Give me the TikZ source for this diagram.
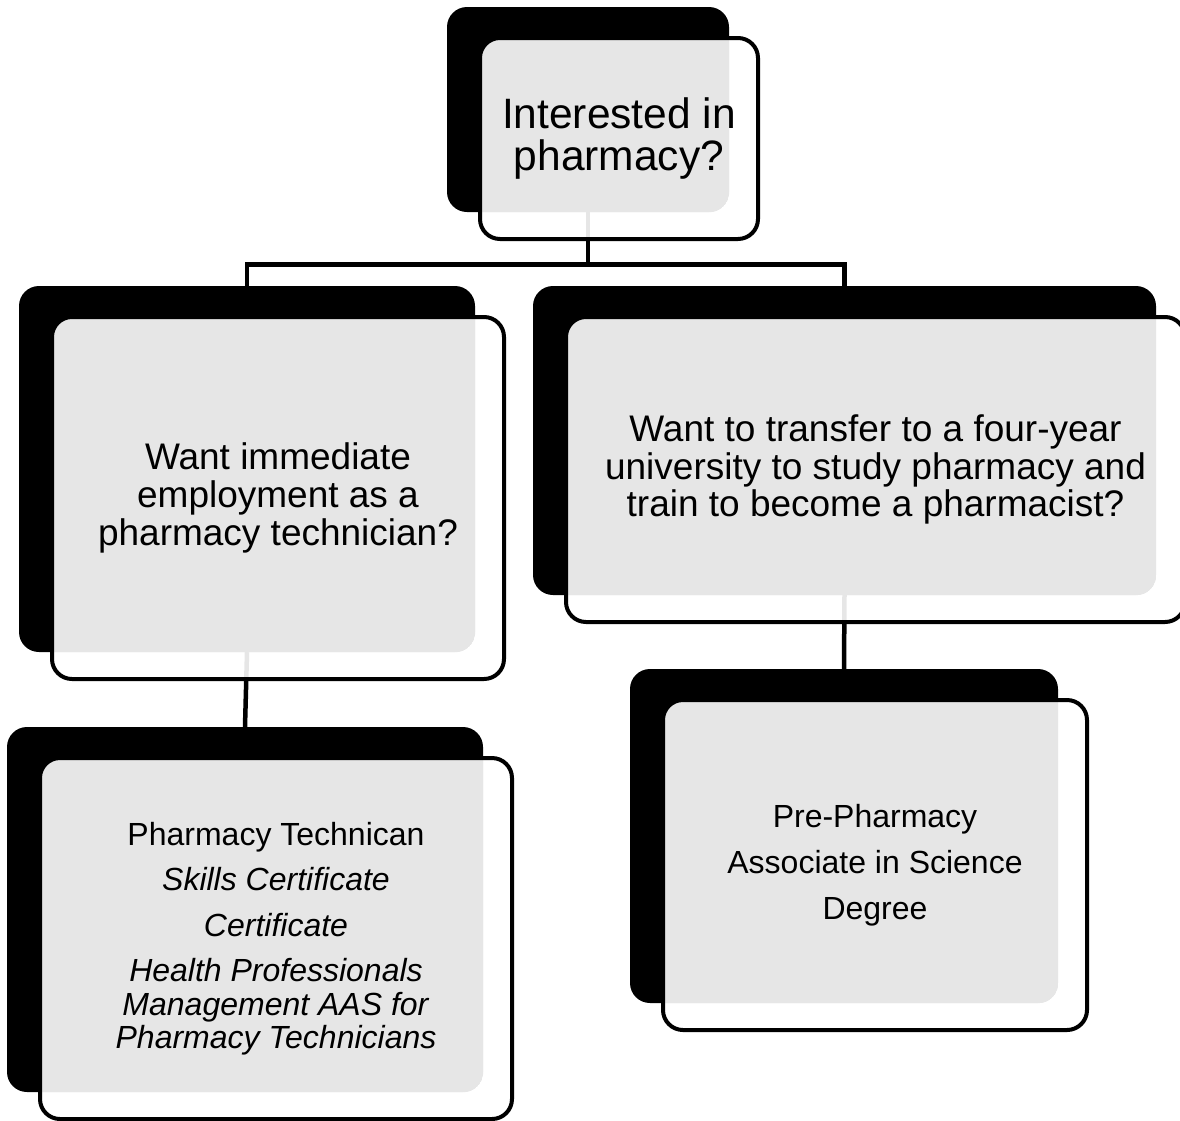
\documentclass[tikz,border=0pt]{standalone}
\usepackage{fontspec}
\setmainfont{Liberation Sans}
\definecolor{boxgray}{RGB}{230,230,230}

\begin{document}
\begin{tikzpicture}[x=1pt,y=-1pt]
        \tikzstyle{back}=[fill=black,rounded corners=20pt,inner sep=0pt]
        \tikzstyle{link}=[line width=4.5pt]
        \tikzset{face/.style={draw=black,line width=4pt,rounded corners=20pt,fill=white,fill opacity=0.9,text opacity=1,
            align=center,inner sep=0pt,
            path picture={\begin{scope}
                \clip[rounded corners=20pt] (#1.south west) rectangle (#1.north east);
                \fill[boxgray,fill opacity=1] (#1.south west) rectangle (#1.north east);
            \end{scope}}}}
        \useasboundingbox (0,0) rectangle (1180,1120);
        \node[back,minimum width=282,minimum height=205] (top) at (588,109.5) {};
        \node[back,minimum width=456,minimum height=366] (want) at (247,469) {};
        \node[back,minimum width=623,minimum height=309] (transfer) at (844.5,440.5) {};
        \node[back,minimum width=476,minimum height=365] (tech) at (245,909.5) {};
        \node[back,minimum width=428,minimum height=334] (prepharm) at (844,836) {};
        \coordinate (fork) at (588,264.5);
        \draw[link] (top.south) -- (fork) -| (want.north);
        \draw[link] (fork) -| (transfer.north);
        \draw[link] (want.south) -- (tech.north);
        \draw[link] (transfer.south) -- (prepharm.north);
        \node[face=top,minimum width=278,minimum height=201,font={\fontsize{42.5pt}{42pt}\selectfont}]
            (topface) at ([shift={(31,29)}]top.center) {Interested in\\pharmacy?};
        \node[face=want,minimum width=452,minimum height=362,font={\fontsize{37pt}{38pt}\selectfont}]
            (wantface) at ([shift={(31,29)}]want.center) {Want immediate\\employment as a\\pharmacy technician?};
        \node[face=transfer,minimum width=619,minimum height=305,font={\fontsize{37pt}{37.5pt}\selectfont}]
            (transferface) at ([shift={(31,29)}]transfer.center) {Want to transfer to a four-year\\university to study pharmacy and\\train to become a pharmacist?};
        \node[face=tech,minimum width=472,minimum height=361,font={\fontsize{32pt}{33.5pt}\selectfont}]
            (techface) at ([shift={(31,29)}]tech.center) {Pharmacy Technican\\[12pt]\textit{Skills Certificate}\\[12pt]\textit{Certificate}\\[12pt]\textit{Health Professionals}\\\textit{Management AAS for}\\\textit{Pharmacy Technicians}};
        \node[face=prepharm,minimum width=424,minimum height=330,font={\fontsize{32pt}{46pt}\selectfont}]
            (prepharmface) at ([shift={(31,29)}]prepharm.center) {Pre-Pharmacy\\Associate in Science\\Degree};
    \end{tikzpicture}
\end{document}
